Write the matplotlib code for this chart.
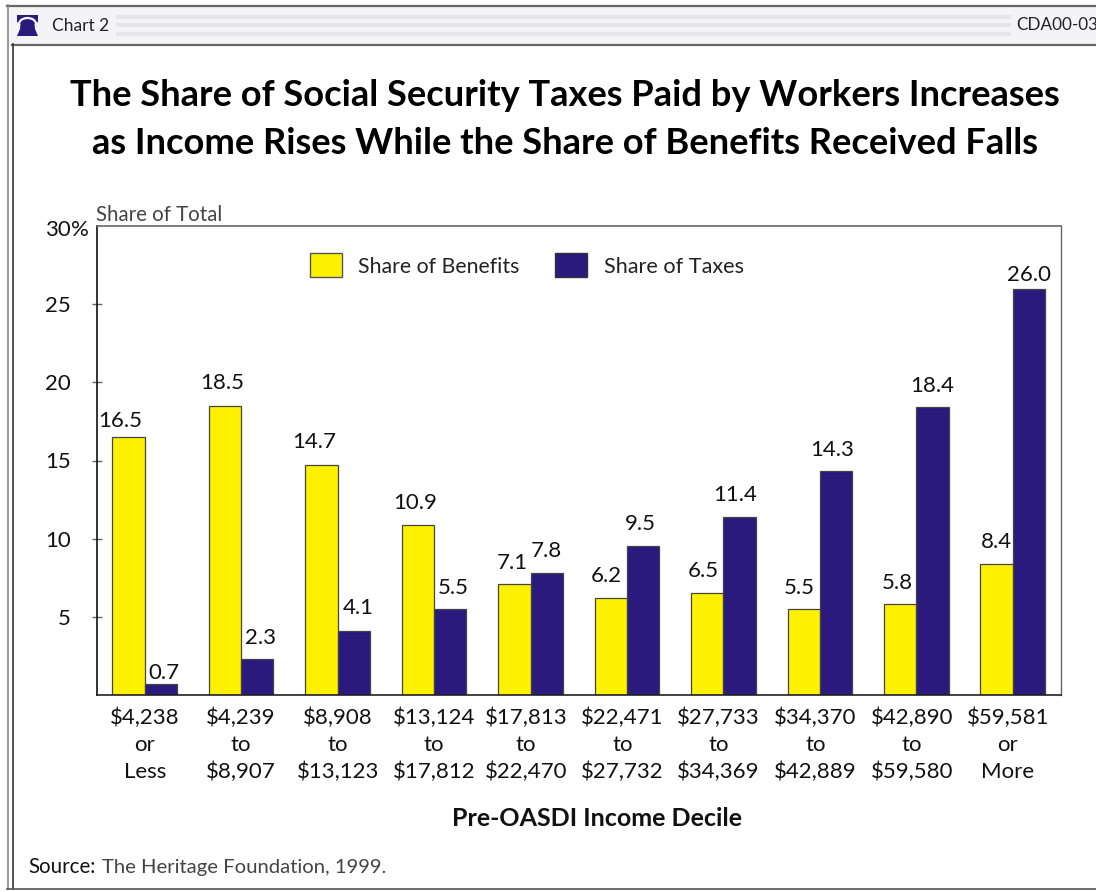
import matplotlib
matplotlib.use('Agg')
import matplotlib.pyplot as plt
from matplotlib.patches import Rectangle, Polygon, Arc

plt.rcParams['font.family'] = ['Lato', 'DejaVu Sans']

deciles = ['$4,238\nor\nLess', '$4,239\nto\n$8,907', '$8,908\nto\n$13,123',
           '$13,124\nto\n$17,812', '$17,813\nto\n$22,470', '$22,471\nto\n$27,732',
           '$27,733\nto\n$34,369', '$34,370\nto\n$42,889', '$42,890\nto\n$59,580',
           '$59,581\nor\nMore']
benefits = [16.5, 18.5, 14.7, 10.9, 7.1, 6.2, 6.5, 5.5, 5.8, 8.4]
taxes = [0.7, 2.3, 4.1, 5.5, 7.8, 9.5, 11.4, 14.3, 18.4, 26.0]
y_ticks = [5, 10, 15, 20, 25]
y_top = 30

# hand placed label nudges, in pixels
benefit_dx = [-8, -3, -7, -3, -2, -5, -4, -4, -3, 0]
benefit_dy = [16, 23, 23, 22, 21, 22, 22, 21, 21, 22]
tax_dx = [3, 3, 4, 3, 0, -3, -4, -4, 0, 0]
tax_dy = [11, 21, 23, 21, 22, 22, 22, 21, 21, 14]
decile_dx = [0, 0, 0, 0, -4.5, -4.5, -5, -4.5, -4.5, -4.8]

YELLOW = '#fff200'
NAVY = '#2a1a7e'
HEADER = '#f4f4f7'
W, H = 1096, 892

fig = plt.figure(figsize=(W / 100, H / 100), dpi=100)

# page furniture is drawn in pixel coordinates on a full figure axes
bg = fig.add_axes([0, 0, 1, 1])
bg.set_xlim(0, W)
bg.set_ylim(H, 0)
bg.axis('off')
bg.add_patch(Rectangle((7, 5.5), W, 39, fc=HEADER, ec='none'))
for y in (14.5, 23, 32):
    bg.add_patch(Rectangle((116, y), 895, 4, fc='#e6e6e9', ec='none'))
bg.plot([7, W], [5.5, 5.5], color='#666666', lw=1.6)
bg.plot([12, W], [44.5, 44.5], color='#666666', lw=1.6)
bg.plot([7.5, 7.5], [5, 889], color='#888888', lw=1.2)
bg.plot([12.5, 12.5], [44, 889], color='#333333', lw=1.2)
bg.plot([7, W], [889, 889], color='#555555', lw=1.2)

# bell icon in the header
bg.add_patch(Polygon([(17, 15), (38, 15), (38, 22), (34.5, 24), (35, 29), (38, 36), (17, 36),
                      (20, 29), (20.5, 24), (17, 22)], fc=NAVY, ec='none'))
bg.add_patch(Arc((27.5, 24), 17, 12, theta1=180, theta2=360, ec=HEADER, lw=1.6))

bg.text(52, 26, 'Chart 2', fontsize=12.5, color='#222222', va='center', ha='left')
bg.text(1016, 25, 'CDA00-03', fontsize=12.3, color='#222222', va='center', ha='left')

bg.text(565, 95, 'The Share of Social Security Taxes Paid by Workers Increases',
        fontsize=26.1, fontweight='bold', ha='center', va='center', color='black')
bg.text(565, 143, 'as Income Rises While the Share of Benefits Received Falls',
        fontsize=26.1, fontweight='bold', ha='center', va='center', color='black')

bg.text(96, 215, 'Share of Total', fontsize=14.8, color='#444444', va='center', ha='left')
bg.text(597, 818, 'Pre-OASDI Income Decile', fontsize=18, fontweight='bold', color='#111111',
        va='center', ha='center')
bg.text(28, 867, 'Source:', fontsize=14.8, color='#111111', va='center', ha='left')
bg.text(102, 867, 'The Heritage Foundation, 1999.', fontsize=14.6, color='#444444',
        va='center', ha='left')

# legend swatches and labels
bg.add_patch(Rectangle((310, 253), 32, 24, fc=YELLOW, ec='#555555', lw=1))
bg.text(358, 267, 'Share of Benefits', fontsize=15.3, color='#222222', va='center', ha='left')
bg.add_patch(Rectangle((555, 253), 32, 24, fc=NAVY, ec='#333333', lw=1))
bg.text(604, 267, 'Share of Taxes', fontsize=15.6, color='#222222', va='center', ha='left')

ax = fig.add_axes([96.5 / W, 1 - 695 / H, (1061 - 96.5) / W, (695 - 226) / H], zorder=2)
ax.patch.set_alpha(0)

x = list(range(len(deciles)))
bar_w = 0.335
ax.bar([i - bar_w / 2 for i in x], benefits, bar_w, color=YELLOW, edgecolor='#444444', linewidth=0.9)
ax.bar([i + bar_w / 2 for i in x], taxes, bar_w, color=NAVY, edgecolor='#444444', linewidth=0.9)

for i in x:
    ax.annotate(f'{benefits[i]:.1f}', (i - bar_w / 2, benefits[i]), xytext=(benefit_dx[i], benefit_dy[i]),
                textcoords='offset pixels', ha='center', va='center', fontsize=16, color='#111111')
    ax.annotate(f'{taxes[i]:.1f}', (i + bar_w / 2, taxes[i]), xytext=(tax_dx[i], tax_dy[i]),
                textcoords='offset pixels', ha='center', va='center', fontsize=16, color='#111111')

    # one annotation per row keeps the baselines evenly spaced
    for row, part in enumerate(deciles[i].split('\n')):
        ax.annotate(part, (i, 0), xytext=(decile_dx[i], -29 - 27 * row), textcoords='offset pixels',
                    ha='center', va='baseline', fontsize=16, color='#111111', annotation_clip=False)

ax.set_xlim(-0.5, len(deciles) - 0.5)
ax.set_ylim(0, y_top)
ax.set_xticks([])
ax.set_yticks(y_ticks)
ax.set_yticklabels([])
ax.tick_params(axis='y', direction='inout', length=7, width=1, color='#666666')

# numbers line up on their right edge, the percent sign hangs past them
yaxis_tf = ax.get_yaxis_transform()
for t in y_ticks:
    ax.annotate(str(t), (0, t), xycoords=yaxis_tf, xytext=(-25.5, -2), textcoords='offset pixels',
                ha='right', va='center', fontsize=16, color='#111111', annotation_clip=False)
ax.annotate(str(y_top), (0, y_top), xycoords=yaxis_tf, xytext=(-25.5, -4), textcoords='offset pixels',
            ha='right', va='center', fontsize=16, color='#111111', annotation_clip=False)
ax.annotate('%', (0, y_top), xycoords=yaxis_tf, xytext=(-25.5, -4), textcoords='offset pixels',
            ha='left', va='center', fontsize=16, color='#111111', annotation_clip=False)

ax.spines['left'].set_color('#111111')
ax.spines['left'].set_linewidth(1.2)
ax.spines['bottom'].set_color('#222222')
ax.spines['bottom'].set_linewidth(1.2)
ax.spines['top'].set_color('#666666')
ax.spines['top'].set_linewidth(1.2)
ax.spines['right'].set_color('#666666')
ax.spines['right'].set_linewidth(1)

fig.savefig('out.png', dpi=100)
